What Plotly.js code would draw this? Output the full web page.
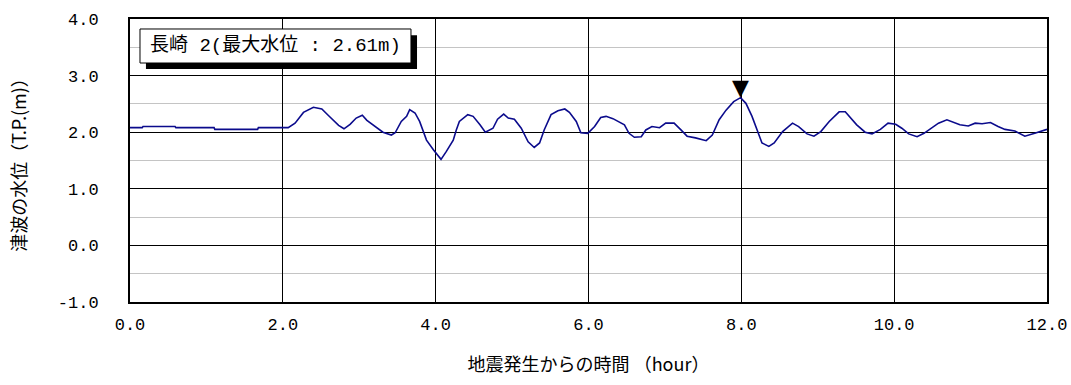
<!DOCTYPE html>
<html>
<head>
<meta charset="utf-8">
<script src="https://cdn.plot.ly/plotly-3.0.1.min.js"></script>
<style>html,body{margin:0;padding:0;background:#fff;}#chart{width:1071px;height:385px;}</style>
</head>
<body>
<div id="chart"></div>
<script>
const timeHours = [0.00,0.16,0.17,0.59,0.60,1.10,1.11,1.67,1.68,2.07,2.16,2.27,2.40,2.51,2.60,2.73,2.80,2.88,2.96,3.04,3.10,3.20,3.31,3.42,3.47,3.55,3.62,3.66,3.73,3.79,3.88,3.97,4.07,4.14,4.23,4.27,4.31,4.42,4.49,4.58,4.65,4.75,4.81,4.89,4.95,5.03,5.12,5.21,5.29,5.36,5.42,5.51,5.60,5.69,5.75,5.84,5.90,5.99,6.08,6.16,6.23,6.32,6.38,6.47,6.53,6.60,6.69,6.75,6.83,6.93,7.01,7.12,7.21,7.29,7.40,7.54,7.62,7.71,7.80,7.90,7.99,8.06,8.14,8.21,8.27,8.36,8.43,8.54,8.67,8.75,8.86,8.95,9.04,9.15,9.28,9.36,9.43,9.51,9.62,9.71,9.82,9.92,10.02,10.10,10.19,10.30,10.39,10.47,10.58,10.69,10.78,10.86,10.97,11.06,11.15,11.26,11.36,11.45,11.58,11.71,11.84,11.97,12.00];
const waterLevel = [2.08,2.08,2.10,2.10,2.08,2.08,2.05,2.05,2.08,2.08,2.16,2.35,2.44,2.41,2.29,2.12,2.06,2.14,2.25,2.30,2.21,2.11,2.00,1.95,1.99,2.19,2.28,2.40,2.34,2.19,1.86,1.69,1.52,1.66,1.86,2.04,2.19,2.31,2.28,2.13,2.00,2.07,2.23,2.32,2.25,2.23,2.07,1.83,1.73,1.81,2.04,2.31,2.38,2.41,2.35,2.19,1.99,1.98,2.10,2.26,2.28,2.24,2.19,2.13,1.98,1.91,1.92,2.04,2.10,2.08,2.16,2.16,2.04,1.93,1.90,1.85,1.95,2.22,2.39,2.54,2.61,2.51,2.28,2.01,1.81,1.75,1.81,2.01,2.16,2.10,1.97,1.93,2.01,2.19,2.36,2.36,2.25,2.13,2.00,1.97,2.05,2.16,2.14,2.07,1.97,1.92,1.98,2.05,2.16,2.22,2.17,2.13,2.11,2.16,2.15,2.17,2.10,2.05,2.02,1.93,1.98,2.04,2.05];
const xTickVals = [0,2,4,6,8,10,12];
const xTickText = ["0.0","2.0","4.0","6.0","8.0","10.0","12.0"];
const yTickVals = [-1,0,1,2,3,4];
const yTickText = ["-1.0","0.0","1.0","2.0","3.0","4.0"];
const labelText = "長崎 2(最大水位 : 2.61m)";
const xTitle = "地震発生からの時間 （hour）";
const yTitle = "津波の水位（T.P.(m)）";

let maxIdx = 0;
waterLevel.forEach((v,i)=>{ if (v > waterLevel[maxIdx]) maxIdx = i; });

const monoJp = "'Liberation Mono', 'Noto Sans CJK JP', monospace";
const tickFont = {family: monoJp, size: 17, color: "#000"};
const jpFont = {family: "'Noto Sans CJK JP', sans-serif", size: 18, color: "#000"};

const trace = {
  x: timeHours, y: waterLevel, type: "scatter", mode: "lines",
  line: {color: "#0b0b8c", width: 1.6}, hoverinfo: "skip"
};

const layout = {
  width: 1071, height: 385,
  margin: {l: 130, r: 24, t: 19, b: 83},
  paper_bgcolor: "#fff", plot_bgcolor: "#fff",
  showlegend: false,
  xaxis: {
    range: [0, 12], tickvals: xTickVals, ticktext: xTickText,
    showgrid: true, gridcolor: "#000", gridwidth: 1,
    showline: true, linecolor: "#000", linewidth: 2, mirror: true,
    ticks: "", ticklabelstandoff: 6, tickfont: tickFont, zeroline: false,
    title: {text: xTitle, font: jpFont, standoff: 24}
  },
  yaxis: {
    range: [-1, 4], tickvals: yTickVals, ticktext: yTickText,
    showgrid: true, gridcolor: "#000", gridwidth: 1,
    minor: {dtick: 0.5, tick0: 0, showgrid: true, gridcolor: "#c4c4c4", gridwidth: 1, ticks: ""},
    showline: true, linecolor: "#000", linewidth: 2, mirror: true,
    ticks: "", ticklabelstandoff: 26, tickfont: tickFont, zeroline: false,
    title: {text: yTitle, font: jpFont, standoff: 26}
  },
  shapes: [
    {type: "rect", xref: "paper", yref: "paper", x0: 0.0174, x1: 0.313, y0: 0.823, y1: 0.943,
     fillcolor: "#000", line: {width: 0}, layer: "above"},
    {type: "rect", xref: "paper", yref: "paper", x0: 0.0109, x1: 0.3064, y0: 0.8445, y1: 0.9647,
     fillcolor: "#fff", line: {color: "#000", width: 1}, layer: "above"}
  ],
  annotations: [
    {xref: "paper", yref: "paper", x: 0.1587, y: 0.9046, xanchor: "center", yanchor: "middle",
     text: labelText, showarrow: false, font: {family: monoJp, size: 19, color: "#000"}},
    {x: timeHours[maxIdx], y: waterLevel[maxIdx], xref: "x", yref: "y", xanchor: "center", yanchor: "bottom",
     text: "▼", showarrow: false, yshift: -4, font: {family: "DejaVu Sans", size: 22, color: "#000"}}
  ]
};

Plotly.newPlot("chart", [trace], layout, {staticPlot: true, displayModeBar: false});
</script>
</body>
</html>
